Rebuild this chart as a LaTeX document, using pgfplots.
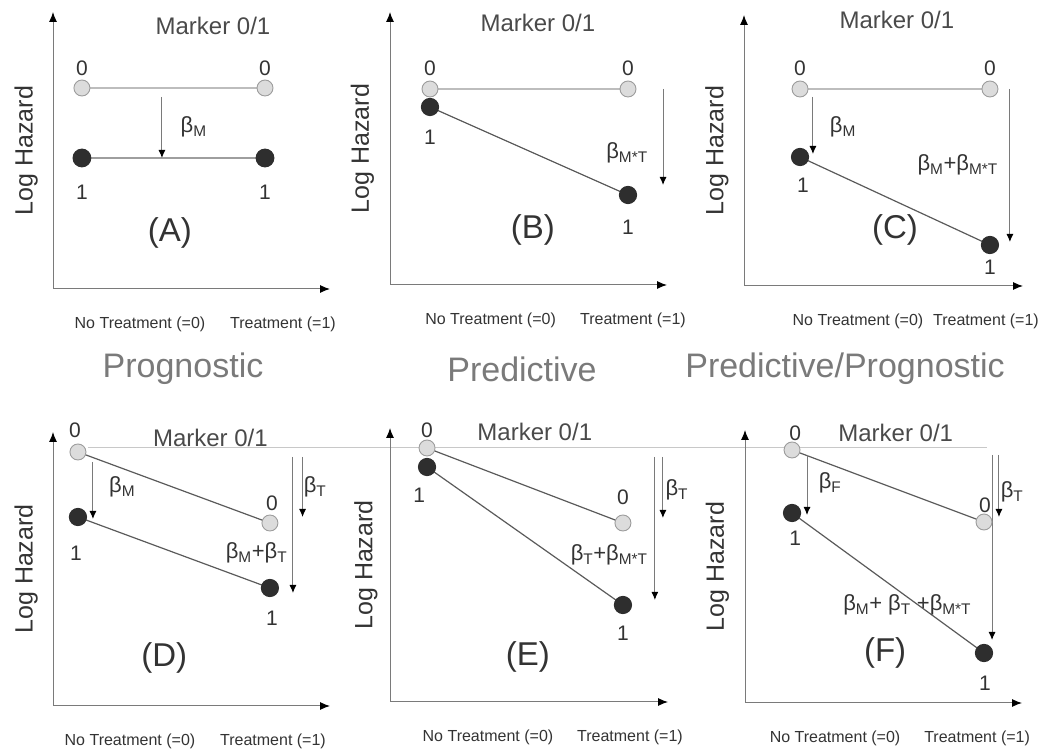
\documentclass[border=0pt]{standalone}
\usepackage{pgfplots}
\pgfplotsset{compat=1.18}
\usepackage{fontspec}
\setmainfont{Liberation Sans}
\usetikzlibrary{arrows.meta}
\definecolor{axgray}{HTML}{7A7A7A}
\definecolor{lightline}{HTML}{BDBDBD}
\definecolor{midline}{HTML}{9E9E9E}
\definecolor{darkline}{HTML}{5A5A5A}
\definecolor{greyfill}{HTML}{DCDCDC}
\definecolor{greyedge}{HTML}{9C9C9C}
\definecolor{darkfill}{HTML}{2E2E2E}
\definecolor{txt}{HTML}{333333}
\definecolor{mktxt}{HTML}{4A4A4A}
\definecolor{ttl}{HTML}{7A7A7A}
\definecolor{refline}{HTML}{C8C8C8}
\newcommand\fs[1]{\fontsize{#1}{#1}\selectfont}
\pgfplotsset{
  panel/.style={scale only axis, width=277pt, enlargelimits=false, clip=false,
    axis x line=bottom, axis y line=left,
    axis line style={draw=axgray, line width=1pt, -{Latex[length=10pt,width=8pt,color=black]}},
    ytick=\empty, major tick length=0pt, xtick style={draw=none},
    xticklabels={{No Treatment (=0)},{Treatment (=1)}},
    xticklabel style={font=\fs{16}, text=txt, yshift=-24pt},
    anchor=south west},
  zero/.style={draw=lightline, line width=1.8pt, mark=*, mark size=8pt,
    mark options={fill=greyfill, draw=greyedge, line width=0.9pt}},
  one/.style={draw=darkline, line width=1.2pt, mark=*, mark size=8.5pt,
    mark options={fill=darkfill, draw=darkfill}},
  varr/.style={draw=axgray, line width=1pt, -{Latex[length=8pt,width=7pt,color=black]}},
}
\tikzset{
  dig/.style={font=\fs{21}, text=txt},
  lab/.style={font=\fs{33}, text=txt},
  beta/.style={font=\fs{22}, text=txt},
  mk/.style={font=\fs{24}, text=mktxt},
  lh/.style={font=\fs{25}, text=txt, rotate=90},
  ttlst/.style={font=\fs{34}, text=ttl},
}
\begin{document}
\begin{tikzpicture}
\useasboundingbox (0,0) rectangle (1049pt,749pt);
% ---------------- (A)
\begin{axis}[panel, at={(53pt,460pt)}, height=277pt,
  xmin=-0.158, xmax=1.355, ymin=-2.01, ymax=0.76, xtick={0.317,1.098}]
\addplot[zero] coordinates {(0,0) (1,0)};
\addplot[one, draw=midline, line width=1.8pt] coordinates {(0,-0.70) (1,-0.70)};
\addplot[varr] coordinates {(0.437,-0.09) (0.437,-0.70)};
\node[dig] at (axis cs:0,0.20) {0};
\node[dig] at (axis cs:1,0.20) {0};
\node[dig] at (axis cs:0,-1.04) {1};
\node[dig] at (axis cs:1,-1.04) {1};
\node[mk] at (axis cs:0.716,0.62) {Marker 0/1};
\node[beta] at (axis cs:0.61,-0.39) {β\textsubscript{M}};
\node[lab] at (axis cs:0.48,-1.45) {(A)};
\node[lh] at (axis description cs:-0.097,0.5) {Log Hazard};
\end{axis}
% ---------------- (B)
\begin{axis}[panel, at={(390pt,464pt)}, height=273pt,
  xmin=-0.202, xmax=1.197, ymin=-1.96, ymax=0.77, xtick={0.306,1.025}]
\addplot[zero] coordinates {(0,0) (1,0)};
\addplot[one] coordinates {(0,-0.18) (1,-1.06)};
\addplot[varr] coordinates {(1.177,0) (1.177,-0.96)};
\node[dig] at (axis cs:0,0.21) {0};
\node[dig] at (axis cs:1,0.21) {0};
\node[dig] at (axis cs:0,-0.48) {1};
\node[dig] at (axis cs:1,-1.38) {1};
\node[mk] at (axis cs:0.545,0.66) {Marker 0/1};
\node[beta] at (axis cs:0.995,-0.64) {β\textsubscript{M*T}};
\node[lab] at (axis cs:0.52,-1.41) {(B)};
\node[lh] at (axis description cs:-0.10,0.5) {Log Hazard};
\end{axis}
% ---------------- (C)
\begin{axis}[panel, at={(744pt,463pt)}, width=279pt, height=271pt,
  xmin=-0.295, xmax=1.174, ymin=-1.97, ymax=0.74, xtick={0.305,0.979}]
\addplot[zero] coordinates {(0,0) (1,0)};
\addplot[one] coordinates {(0,-0.68) (1,-1.56)};
\addplot[varr] coordinates {(0.068,-0.08) (0.068,-0.65)};
\addplot[varr] coordinates {(1.105,0) (1.105,-1.53)};
\node[dig] at (axis cs:0,0.21) {0};
\node[dig] at (axis cs:1,0.21) {0};
\node[dig] at (axis cs:0.016,-0.96) {1};
\node[dig] at (axis cs:1,-1.78) {1};
\node[mk] at (axis cs:0.51,0.69) {Marker 0/1};
\node[beta] at (axis cs:0.226,-0.38) {β\textsubscript{M}};
\node[beta] at (axis cs:0.83,-0.76) {β\textsubscript{M}+β\textsubscript{M*T}};
\node[lab] at (axis cs:0.5,-1.41) {(C)};
\node[lh] at (axis description cs:-0.097,0.5) {Log Hazard};
\end{axis}
% ---------------- titles
\node[ttlst] at (183pt,380pt) {Prognostic};
\node[ttlst] at (522pt,380pt) {Predictive};
\node[ttlst] at (845pt,380pt) {Predictive/Prognostic};
% ---------------- (D)
\begin{axis}[panel, at={(53pt,43pt)}, height=274pt,
  xmin=-0.13, xmax=1.313, ymin=-2.54, ymax=0.20, xtick={0.271,1.016}]
\addplot[draw=refline, line width=1pt] coordinates {(0.052,0.04) (4.734,0.04)};
\addplot[one] coordinates {(0,-0.65) (1,-1.36)};
\addplot[zero, draw=darkline, line width=1.2pt] coordinates {(0,0) (1,-0.71)};
\addplot[varr] coordinates {(0.078,-0.10) (0.078,-0.67)};
\addplot[varr] coordinates {(1.12,-0.05) (1.12,-1.41)};
\addplot[varr] coordinates {(1.17,-0.05) (1.17,-0.65)};
\node[dig] at (axis cs:-0.016,0.22) {0};
\node[dig] at (axis cs:1.01,-0.51) {0};
\node[dig] at (axis cs:-0.01,-1.01) {1};
\node[dig] at (axis cs:1.01,-1.66) {1};
\node[mk] at (axis cs:0.69,0.14) {Marker 0/1};
\node[beta] at (axis cs:0.23,-0.35) {β\textsubscript{M}};
\node[beta] at (axis cs:1.235,-0.35) {β\textsubscript{T}};
\node[beta] at (axis cs:0.93,-1.01) {β\textsubscript{M}+β\textsubscript{T}};
\node[lab] at (axis cs:0.45,-2.06) {(D)};
\node[lh] at (axis description cs:-0.097,0.5) {Log Hazard};
\end{axis}
% ---------------- (E)
\begin{axis}[panel, at={(390pt,47pt)}, width=278pt, height=274pt,
  xmin=-0.189, xmax=1.230, ymin=-2.54, ymax=0.20, xtick={0.311,1.036}]
\addplot[one] coordinates {(0,-0.19) (1,-1.57)};
\addplot[zero, draw=darkline, line width=1.2pt] coordinates {(0,0) (1,-0.75)};
\addplot[varr] coordinates {(1.163,-0.09) (1.163,-1.52)};
\addplot[varr] coordinates {(1.204,-0.09) (1.204,-0.70)};
\node[dig] at (axis cs:0,0.18) {0};
\node[dig] at (axis cs:1,-0.49) {0};
\node[dig] at (axis cs:-0.04,-0.47) {1};
\node[dig] at (axis cs:1,-1.85) {1};
\node[mk] at (axis cs:0.55,0.16) {Marker 0/1};
\node[beta] at (axis cs:1.275,-0.42) {β\textsubscript{T}};
\node[beta] at (axis cs:0.93,-1.07) {β\textsubscript{T}+β\textsubscript{M*T}};
\node[lab] at (axis cs:0.515,-2.09) {(E)};
\node[lh] at (axis description cs:-0.087,0.5) {Log Hazard};
\end{axis}
% ---------------- (F)
\begin{axis}[panel, at={(745pt,46pt)}, height=273pt,
  xmin=-0.245, xmax=1.198, ymin=-2.53, ymax=0.20, xtick={0.224,0.964}]
\addplot[one] coordinates {(0,-0.63) (1,-2.03)};
\addplot[zero, draw=darkline, line width=1.2pt] coordinates {(0,0) (1,-0.72)};
\addplot[varr] coordinates {(0.078,-0.05) (0.078,-0.65)};
\addplot[varr] coordinates {(1.042,-0.05) (1.042,-1.90)};
\addplot[varr] coordinates {(1.078,-0.05) (1.078,-0.67)};
\node[dig] at (axis cs:0.016,0.17) {0};
\node[dig] at (axis cs:1.005,-0.55) {0};
\node[dig] at (axis cs:0.016,-0.88) {1};
\node[dig] at (axis cs:1.005,-2.33) {1};
\node[mk] at (axis cs:0.54,0.17) {Marker 0/1};
\node[beta] at (axis cs:0.198,-0.33) {β\textsubscript{F}};
\node[beta] at (axis cs:1.146,-0.42) {β\textsubscript{T}};
\node[beta] at (axis cs:0.60,-1.55) {β\textsubscript{M}+ β\textsubscript{T} +β\textsubscript{M*T}};
\node[lab] at (axis cs:0.485,-2.03) {(F)};
\node[lh] at (axis description cs:-0.10,0.5) {Log Hazard};
\end{axis}
\end{tikzpicture}
\end{document}
